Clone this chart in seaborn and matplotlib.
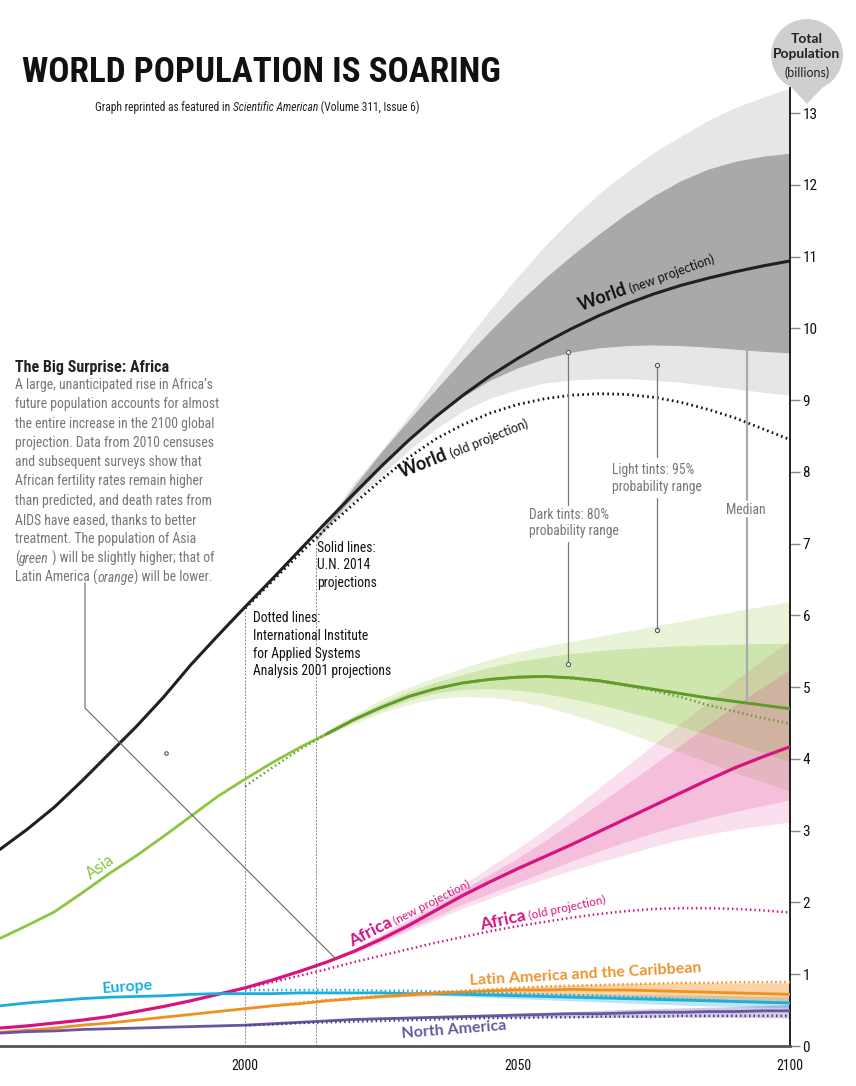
import numpy as np
import matplotlib
matplotlib.use("Agg")
import matplotlib.pyplot as plt
import seaborn as sns
from matplotlib import font_manager
from matplotlib.patches import Circle, Polygon
from matplotlib.lines import Line2D

# ---- data (billions) ----
years = list(range(1955, 2101, 5))
old_years = list(range(2000, 2101, 5))
band_years = [2013] + list(range(2015, 2101, 5))

world = [2.74, 3.02, 3.33, 3.69, 4.07, 4.45, 4.86, 5.31, 5.72, 6.12, 6.51, 6.91, 7.31, 7.70, 8.08,
         8.44, 8.77, 9.07, 9.34, 9.58, 9.80, 10.00, 10.18, 10.34, 10.48, 10.60, 10.70, 10.79, 10.87, 10.94]
world_old = [6.10, 6.48, 6.86, 7.22, 7.56, 7.89, 8.20, 8.46, 8.66, 8.82, 8.94, 9.02, 9.07, 9.09, 9.08,
             9.04, 8.97, 8.87, 8.75, 8.60, 8.45]
world_lo95 = [7.02, 7.20, 7.60, 7.95, 8.30, 8.60, 8.85, 9.03, 9.15, 9.24, 9.28, 9.30, 9.30, 9.28,
              9.25, 9.20, 9.16, 9.11, 9.07]
world_lo80 = [7.04, 7.24, 7.67, 8.06, 8.43, 8.77, 9.05, 9.28, 9.45, 9.58, 9.67, 9.73, 9.76, 9.77,
              9.76, 9.74, 9.71, 9.68, 9.66]
world_hi80 = [7.08, 7.30, 7.80, 8.28, 8.72, 9.15, 9.57, 9.97, 10.35, 10.70, 11.02, 11.32, 11.60,
              11.85, 12.06, 12.22, 12.33, 12.40, 12.44]
world_hi95 = [7.10, 7.32, 7.85, 8.30, 8.78, 9.28, 9.78, 10.26, 10.72, 11.15, 11.53, 11.88, 12.18,
              12.45, 12.68, 12.90, 13.08, 13.22, 13.35]

asia = [1.50, 1.68, 1.87, 2.13, 2.40, 2.65, 2.92, 3.20, 3.48, 3.72, 3.95, 4.16, 4.35, 4.55, 4.72,
        4.87, 4.98, 5.06, 5.11, 5.14, 5.15, 5.13, 5.09, 5.03, 4.97, 4.91, 4.85, 4.80, 4.75, 4.70]
asia_old = [3.62, 3.88, 4.13, 4.35, 4.55, 4.72, 4.87, 4.98, 5.06, 5.11, 5.14, 5.15, 5.12, 5.08, 5.02,
            4.95, 4.86, 4.75, 4.66, 4.57, 4.49]
asia_lo95 = [4.26, 4.33, 4.49, 4.64, 4.76, 4.84, 4.87, 4.86, 4.81, 4.73, 4.62, 4.50, 4.37, 4.23,
             4.09, 3.95, 3.81, 3.68, 3.55]
asia_lo80 = [4.26, 4.34, 4.52, 4.68, 4.82, 4.92, 4.97, 4.98, 4.96, 4.91, 4.84, 4.76, 4.66, 4.56,
             4.45, 4.34, 4.22, 4.09, 3.96]
asia_hi80 = [4.28, 4.39, 4.59, 4.78, 4.94, 5.07, 5.18, 5.28, 5.36, 5.42, 5.47, 5.51, 5.54, 5.56,
             5.58, 5.59, 5.60, 5.61, 5.61]
asia_hi95 = [4.28, 4.40, 4.62, 4.83, 5.00, 5.14, 5.27, 5.39, 5.49, 5.57, 5.64, 5.71, 5.78, 5.85,
             5.92, 5.99, 6.06, 6.13, 6.19]

africa = [0.25, 0.28, 0.32, 0.36, 0.41, 0.48, 0.55, 0.63, 0.72, 0.81, 0.92, 1.04, 1.17, 1.32, 1.49,
          1.68, 1.89, 2.10, 2.29, 2.47, 2.64, 2.81, 2.99, 3.17, 3.35, 3.53, 3.71, 3.88, 4.03, 4.17]
africa_old = [0.80, 0.89, 0.98, 1.07, 1.17, 1.26, 1.35, 1.44, 1.52, 1.60, 1.67, 1.73, 1.79, 1.84, 1.88,
              1.91, 1.92, 1.92, 1.91, 1.89, 1.86]
africa_lo95 = [1.12, 1.17, 1.29, 1.44, 1.60, 1.76, 1.92, 2.06, 2.20, 2.33, 2.45, 2.56, 2.67, 2.78,
               2.88, 2.95, 3.02, 3.07, 3.12]
africa_lo80 = [1.12, 1.17, 1.30, 1.46, 1.63, 1.80, 1.98, 2.13, 2.28, 2.43, 2.58, 2.72, 2.85, 2.97,
               3.08, 3.18, 3.27, 3.35, 3.43]
africa_hi80 = [1.12, 1.18, 1.35, 1.54, 1.74, 1.95, 2.18, 2.40, 2.62, 2.86, 3.12, 3.38, 3.65, 3.92,
               4.20, 4.48, 4.75, 5.00, 5.25]
africa_hi95 = [1.12, 1.18, 1.36, 1.56, 1.78, 2.01, 2.25, 2.50, 2.75, 3.02, 3.30, 3.60, 3.90, 4.20,
               4.50, 4.80, 5.10, 5.38, 5.65]

europe = [0.56, 0.60, 0.63, 0.66, 0.68, 0.69, 0.70, 0.72, 0.73, 0.73, 0.73, 0.74, 0.74, 0.74, 0.74,
          0.73, 0.73, 0.72, 0.71, 0.70, 0.69, 0.68, 0.67, 0.66, 0.65, 0.64, 0.63, 0.62, 0.61, 0.60]
europe_old = [0.78, 0.78, 0.78, 0.78, 0.78, 0.77, 0.77, 0.76, 0.75, 0.74, 0.73, 0.72, 0.71, 0.70, 0.68,
              0.67, 0.65, 0.64, 0.62, 0.61, 0.60]
europe_lo = [0.74, 0.74, 0.74, 0.73, 0.72, 0.705, 0.69, 0.675, 0.66, 0.645, 0.63, 0.615, 0.60, 0.585,
             0.57, 0.56, 0.55, 0.54, 0.53]
europe_hi = [0.74, 0.745, 0.75, 0.75, 0.75, 0.75, 0.75, 0.745, 0.74, 0.735, 0.73, 0.725, 0.72, 0.715,
             0.71, 0.705, 0.70, 0.69, 0.68]

latam = [0.19, 0.22, 0.25, 0.29, 0.32, 0.36, 0.40, 0.44, 0.48, 0.52, 0.56, 0.59, 0.63, 0.66, 0.69,
         0.71, 0.74, 0.75, 0.77, 0.78, 0.78, 0.79, 0.78, 0.78, 0.77, 0.76, 0.75, 0.74, 0.73, 0.72]
latam_old = [0.52, 0.56, 0.60, 0.64, 0.67, 0.70, 0.73, 0.75, 0.77, 0.79, 0.81, 0.83, 0.84, 0.85, 0.86,
             0.87, 0.88, 0.88, 0.89, 0.89, 0.89]
latam_lo = [0.61, 0.62, 0.65, 0.67, 0.69, 0.70, 0.71, 0.71, 0.71, 0.705, 0.70, 0.69, 0.68, 0.67,
            0.66, 0.65, 0.64, 0.63, 0.62]
latam_hi = [0.61, 0.63, 0.67, 0.70, 0.73, 0.76, 0.78, 0.80, 0.82, 0.835, 0.85, 0.86, 0.87, 0.875,
            0.88, 0.88, 0.88, 0.88, 0.88]

namerica = [0.18, 0.20, 0.21, 0.23, 0.24, 0.25, 0.26, 0.27, 0.28, 0.29, 0.31, 0.33, 0.35, 0.37, 0.38,
            0.39, 0.40, 0.41, 0.42, 0.43, 0.44, 0.45, 0.45, 0.46, 0.47, 0.47, 0.48, 0.48, 0.49, 0.49]
namerica_old = [0.29, 0.30, 0.32, 0.33, 0.34, 0.35, 0.36, 0.37, 0.38, 0.39, 0.39, 0.40, 0.40, 0.41, 0.41,
                0.41, 0.42, 0.42, 0.42, 0.42, 0.42]
namerica_lo = [0.345, 0.35, 0.36, 0.37, 0.38, 0.385, 0.39, 0.395, 0.40, 0.40, 0.40, 0.40, 0.40, 0.40,
               0.40, 0.40, 0.40, 0.395, 0.39]
namerica_hi = [0.345, 0.355, 0.38, 0.395, 0.41, 0.42, 0.43, 0.445, 0.46, 0.47, 0.48, 0.495, 0.51,
               0.52, 0.53, 0.54, 0.55, 0.565, 0.58]

x_ticks = [2000, 2050, 2100]
y_ticks = list(range(0, 14))

# ---- style ----
sns.set_style("white")
avail = {f.name for f in font_manager.fontManager.ttflist}


def pick(*names):
    for n in names:
        if n in avail:
            return n
    return "DejaVu Sans"


NARROW = pick("Liberation Sans Narrow", "Roboto Condensed", "Open Sans Condensed")
HUMAN = pick("Lato", "Open Sans", "Noto Sans")
plt.rcParams["font.family"] = [NARROW, "DejaVu Sans"]

W, H = 856, 1086
fig = plt.figure(figsize=(W / 100, H / 100), dpi=100)
ax = fig.add_axes([0, 40 / H, 790 / W, (1046 - 88) / H])
ax.set_xlim(1955, 2100)
ax.set_ylim(0, 13.35)

DOT = (0, (0.6, 1.2))

# world bands
ax.fill_between(band_years, world_lo95, world_hi95, color="#e6e6e7", lw=0, zorder=1)
ax.fill_between(band_years, world_lo80, world_hi80, color="#a9a9ab", lw=0, zorder=1.1)

# regional bands
ax.fill_between(band_years, asia_lo95, asia_hi95, color="#8cc63f", alpha=0.2, lw=0, zorder=1.5)
ax.fill_between(band_years, asia_lo80, asia_hi80, color="#8cc63f", alpha=0.28, lw=0, zorder=1.6)
ax.fill_between(band_years, africa_lo95, africa_hi95, color="#e0288a", alpha=0.14, lw=0, zorder=1.5)
ax.fill_between(band_years, africa_lo80, africa_hi80, color="#e0288a", alpha=0.18, lw=0, zorder=1.6)
ax.fill_between(band_years, europe_lo, europe_hi, color="#1badde", alpha=0.3, lw=0, zorder=1.5)
ax.fill_between(band_years, latam_lo, latam_hi, color="#f39325", alpha=0.4, lw=0, zorder=1.5)
ax.fill_between(band_years, namerica_lo, namerica_hi, color="#6a56a0", alpha=0.3, lw=0, zorder=1.5)

# reference verticals
ax.vlines(2000, 0, 6.05, color="#888", lw=0.7, linestyles=(0, (2, 1.5)), zorder=2)
ax.vlines(2013, 0, 7.02, color="#888", lw=0.7, linestyles=(0, (2, 1.5)), zorder=2)

# median lines
sns.lineplot(x=years, y=world, ax=ax, color="#231f20", lw=2.2, zorder=5)
sns.lineplot(x=years, y=asia, ax=ax, color="#8cc63f", lw=2.0, zorder=4)
sns.lineplot(x=years[12:], y=asia[12:], ax=ax, color="#5e9a2c", lw=2.0, zorder=4.1)
sns.lineplot(x=years, y=africa, ax=ax, color="#d6137f", lw=2.3, zorder=4)
sns.lineplot(x=years, y=europe, ax=ax, color="#1badde", lw=2.0, zorder=4)
sns.lineplot(x=years, y=latam, ax=ax, color="#f0901f", lw=2.0, zorder=4)
sns.lineplot(x=years, y=namerica, ax=ax, color="#6a56a0", lw=2.0, zorder=4)

# old (IIASA 2001) dotted projections
sns.lineplot(x=old_years, y=world_old, ax=ax, color="#111", lw=2.0, linestyle=DOT, zorder=4.5)
sns.lineplot(x=old_years, y=asia_old, ax=ax, color="#6f9a38", lw=1.8, linestyle=DOT, zorder=4.5)
sns.lineplot(x=old_years, y=africa_old, ax=ax, color="#d6137f", lw=1.8, linestyle=DOT, zorder=4.5)
sns.lineplot(x=old_years, y=europe_old, ax=ax, color="#1badde", lw=1.8, linestyle=DOT, zorder=4.5)
sns.lineplot(x=old_years, y=latam_old, ax=ax, color="#f0901f", lw=1.8, linestyle=DOT, zorder=4.5)
sns.lineplot(x=old_years, y=namerica_old, ax=ax, color="#4b3d80", lw=1.8, linestyle=DOT, zorder=4.5)

# axes styling
for s in ["left", "top"]:
    ax.spines[s].set_visible(False)
ax.spines["right"].set_color("#111")
ax.spines["right"].set_linewidth(1.3)
ax.spines["bottom"].set_color("#555")
ax.spines["bottom"].set_linewidth(2.0)
ax.yaxis.tick_right()
ax.set_yticks(y_ticks)
ax.set_yticklabels([str(v) for v in y_ticks])
ax.set_xticks(x_ticks)
ax.set_xticklabels([str(v) for v in x_ticks])
ax.tick_params(axis="y", direction="out", length=7, width=1, color="#888", labelsize=11,
               labelcolor="#111", pad=2)
ax.tick_params(axis="x", direction="out", length=5, width=1, color="#444", labelsize=10,
               labelcolor="#111", pad=4)
ax.set_xlabel("")
ax.set_ylabel("")
ax.grid(False)
ax.patch.set_alpha(0)

R = fig.canvas.get_renderer()


def P(x, y):
    return x / W, 1 - y / H


def width_of(s, **kw):
    t = fig.text(0, 0, s, **kw)
    w = t.get_window_extent(renderer=R).width
    t.remove()
    return w


def run(x, y, parts, angle=0, **common):
    a = np.deg2rad(angle)
    for s, props in parts:
        kw = {**common, **props}
        fig.text(*P(x, y), s, rotation=angle, rotation_mode="anchor",
                 ha="left", va="baseline", **kw)
        w = width_of(s, **kw)
        x += w * np.cos(a)
        y -= w * np.sin(a)


def fitsize(s, target, base=10, **kw):
    return base * target / width_of(s, fontsize=base, **kw)


# title + subtitle
title = "WORLD POPULATION IS SOARING"
tsz = fitsize(title, 478, base=30, fontweight="bold")
fig.text(*P(22, 82), title, fontsize=tsz, fontweight="bold", color="#111",
         ha="left", va="baseline")
sub = [("Graph reprinted as featured in ", {}),
       ("Scientific American", {"fontstyle": "italic"}),
       (" (Volume 311, Issue 6)", {})]
sub_w = sum(width_of(s, fontsize=10, **p) for s, p in sub)
run(95, 111, sub, fontsize=10 * 325 / sub_w, color="#222")

# pin
fig.add_artist(Polygon([(7.75, 10.86 - 0.70), (8.39, 10.86 - 0.70), (8.07, 10.86 - 1.04)],
                       closed=True, transform=fig.dpi_scale_trans, color="#cfcfd1", lw=0))
fig.add_artist(Circle((8.07, 10.86 - 0.55), 0.36, transform=fig.dpi_scale_trans,
                      color="#cfcfd1", lw=0))
fig.text(*P(807, 43), "Total", ha="center", va="baseline", fontsize=10, fontweight="bold",
         family=[HUMAN, "DejaVu Sans"], color="#222")
fig.text(*P(807, 58), "Population", ha="center", va="baseline", fontsize=10, fontweight="bold",
         family=[HUMAN, "DejaVu Sans"], color="#222")
fig.text(*P(807, 77), "(billions)", ha="center", va="baseline", fontsize=9,
         family=[HUMAN, "DejaVu Sans"], color="#222")

# side essay
fig.text(*P(15, 372), "The Big Surprise: Africa", fontsize=11.5, fontweight="bold",
         color="#222", ha="left", va="baseline")
body = [
    [("A large, unanticipated rise in Africa\u2019s", {})],
    [("future population accounts for almost", {})],
    [("the entire increase in the 2100 global", {})],
    [("projection. Data from 2010 censuses", {})],
    [("and subsequent surveys show that", {})],
    [("African fertility rates remain higher", {})],
    [("than predicted, and death rates from", {})],
    [("AIDS have eased, thanks to better", {})],
    [("treatment. The population of Asia", {})],
    [("(", {}), ("green", {"fontstyle": "italic"}), (" ) will be slightly higher; that of", {})],
    [("Latin America (", {}), ("orange", {"fontstyle": "italic"}), (") will be lower.", {})],
]
bsz = fitsize("future population accounts for almost", 204)
for i, parts in enumerate(body):
    run(15, 389 + 19.3 * i, parts, fontsize=bsz, color="#777")

# leader from essay to Africa
fig.add_artist(Line2D([85 / W, 85 / W, 337 / W], [1 - 583 / H, 1 - 708 / H, 1 - 960 / H],
                      color="#666", lw=0.8, transform=fig.transFigure))
fig.add_artist(Line2D([166 / W], [1 - 753 / H], marker="o", ms=2.5, mfc="none", mec="#777",
                      lw=0, transform=fig.transFigure))

# method notes
for i, s in enumerate(["Solid lines:", "U.N. 2014", "projections"]):
    fig.text(*P(317, 552 + 17.3 * i), s, fontsize=9.8, color="#111", ha="left", va="baseline")
for i, s in enumerate(["Dotted lines:", "International Institute", "for Applied Systems",
                       "Analysis 2001 projections"]):
    fig.text(*P(253, 622 + 17.8 * i), s, fontsize=9.8, color="#111", ha="left", va="baseline")


# pointer callouts
def vline_px(x, y0, y1, color="#777", lw=0.9):
    fig.add_artist(Line2D([x / W, x / W], [1 - y0 / H, 1 - y1 / H], color=color, lw=lw,
                          transform=fig.transFigure, zorder=6))


def dot_px(x, y):
    fig.add_artist(Line2D([x / W], [1 - y / H], marker="o", ms=3, mfc="white", mec="#555",
                          mew=0.8, lw=0, transform=fig.transFigure, zorder=7))


vline_px(567.5, 352, 505)
vline_px(567.5, 542, 664)
dot_px(567.5, 352)
dot_px(567.5, 664)
vline_px(656.5, 365, 457)
vline_px(656.5, 498, 630)
dot_px(656.5, 365)
dot_px(656.5, 630)
vline_px(747, 272, 500, color="#aaa", lw=1.6)
vline_px(747, 518, 701, color="#aaa", lw=1.6)
for i, s in enumerate(["Dark tints: 80%", "probability range"]):
    fig.text(*P(529, 519 + 16.5 * i), s, fontsize=9.8, color="#777", ha="left", va="baseline")
for i, s in enumerate(["Light tints: 95%", "probability range"]):
    fig.text(*P(612, 474 + 16.5 * i), s, fontsize=9.8, color="#777", ha="left", va="baseline")
fig.text(*P(746, 514), "Median", fontsize=9.8, color="#777", ha="center", va="baseline")

# curve labels
HF = [HUMAN, "DejaVu Sans"]
run(581, 311, [("World", {"fontsize": 13, "fontweight": "bold"}),
               (" (new projection)", {"fontsize": 9})], angle=20, family=HF, color="#111")
run(402, 478, [("World", {"fontsize": 13, "fontweight": "bold"}),
               (" (old projection)", {"fontsize": 9})], angle=22, family=HF, color="#111")
run(91, 880, [("Asia", {"fontsize": 12})], angle=36, family=HF, color="#8cc63f")
run(352, 947, [("Africa", {"fontsize": 12.5, "fontweight": "bold"}),
               (" (new projection)", {"fontsize": 8.5})], angle=27, family=HF, color="#d6137f")
run(481, 930, [("Africa", {"fontsize": 12.5, "fontweight": "bold"}),
               (" (old projection)", {"fontsize": 8.5})], angle=12, family=HF, color="#d6137f")
run(103, 993, [("Europe", {"fontsize": 11.5, "fontweight": "bold"})], angle=4, family=HF,
    color="#1badde")
run(470, 985, [("Latin America and the Caribbean", {"fontsize": 11.5, "fontweight": "bold"})],
    angle=3.2, family=HF, color="#eb9530")
run(402, 1038, [("North America", {"fontsize": 11.5, "fontweight": "bold"})], angle=4.5,
    family=HF, color="#6a56a0")

fig.savefig("out.png", dpi=100)
